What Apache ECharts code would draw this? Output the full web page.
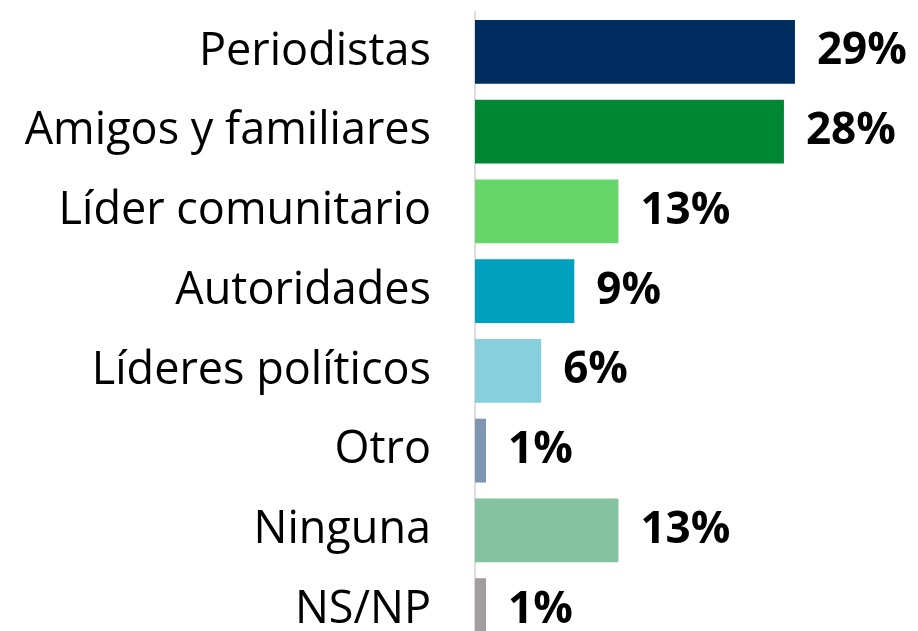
<!DOCTYPE html>
<html>
<head>
<meta charset="utf-8">
<script src="https://cdn.jsdelivr.net/npm/echarts@6/dist/echarts.min.js"></script>
<style>
  html, body { margin: 0; padding: 0; background: #fff; }
  #chart { width: 918px; height: 631px; }
</style>
</head>
<body>
<div id="chart"></div>
<script>
// Categories, top to bottom
const categories = [
  'Periodistas',
  'Amigos y familiares',
  'Líder comunitario',
  'Autoridades',
  'Líderes políticos',
  'Otro',
  'Ninguna',
  'NS/NP'
];
// Share of respondents, percent
const values = [29, 28, 13, 9, 6, 1, 13, 1];
// One colour per bar
const barColors = [
  '#002D5F', '#008733', '#66D66A', '#00A0BF',
  '#85D0DC', '#7F96B2', '#83C39F', '#A29DA0'
];

const FONT = '"Open Sans", Lato, sans-serif';

const chart = echarts.init(document.getElementById('chart'), null, { renderer: 'canvas' });

chart.setOption({
  animation: false,
  backgroundColor: '#ffffff',
  grid: {
    left: 475, top: 12, width: 331, height: 638,
    containLabel: false,
    outerBoundsMode: 'none'
  },
  xAxis: {
    type: 'value',
    min: 0,
    max: 30,
    show: false
  },
  yAxis: {
    type: 'category',
    data: categories,
    inverse: true,
    axisLine: { show: true, lineStyle: { color: '#dcdcdc', width: 2 } },
    axisTick: { show: false },
    axisLabel: {
      margin: 44,
      color: '#000000',
      fontFamily: FONT,
      fontSize: 45,
      fontWeight: 'normal',
      padding: [4, 0, 0, 0]
    }
  },
  series: [{
    type: 'bar',
    barCategoryGap: '20%',
    data: values.map((v, i) => ({ value: v, itemStyle: { color: barColors[i] } })),
    label: {
      show: true,
      position: 'right',
      distance: 22,
      formatter: p => p.value + '%',
      color: '#000000',
      fontFamily: FONT,
      fontSize: 44,
      fontWeight: 'bold'
    }
  }]
});
</script>
</body>
</html>
